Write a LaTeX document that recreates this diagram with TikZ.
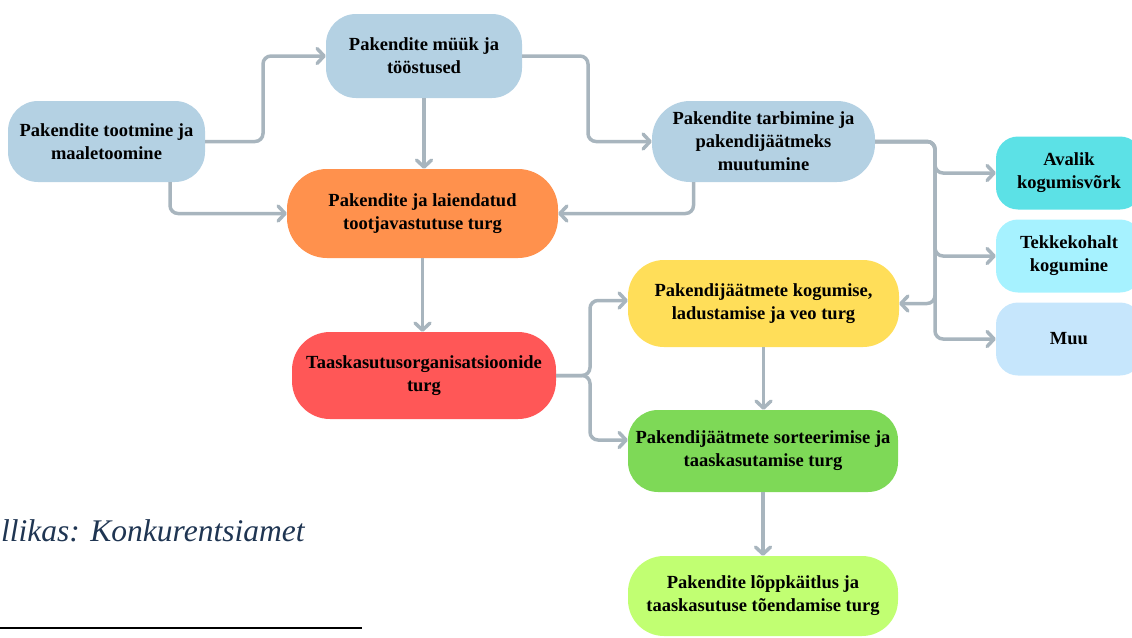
\documentclass[tikz,border=0pt]{standalone}
\usepackage{fontspec}
\setmainfont{Liberation Serif}
\usetikzlibrary{arrows.meta}
\definecolor{pakblue}{HTML}{B4D1E3}
\definecolor{pakorange}{HTML}{FF914D}
\definecolor{pakred}{HTML}{FF5757}
\definecolor{pakyellow}{HTML}{FFDE59}
\definecolor{pakgreen}{HTML}{7ED957}
\definecolor{paklime}{HTML}{C1FF72}
\definecolor{pakteal}{HTML}{5CE1E6}
\definecolor{pakcyan}{HTML}{A6F2FF}
\definecolor{paksky}{HTML}{C6E6FC}
\definecolor{conngray}{HTML}{A8B5BE}
\definecolor{captionnavy}{HTML}{1F3552}

\begin{document}
\begin{tikzpicture}[x=1pt,y=-1pt,
	box/.style={rounded corners=30pt,align=center,inner sep=0pt,
		font=\fontsize{18.5}{23}\selectfont\bfseries},
	sidebox/.style={box,rounded corners=22pt,minimum width=146pt,minimum height=73pt},
	conn/.style={draw=conngray,line width=3.5pt,rounded corners=8pt,
		-{Straight Barb[length=7pt,width=15pt,line cap=round,line join=round]}}
	]
	\useasboundingbox (0,0) rectangle (1132,637);
	\clip (0,0) rectangle (1132,637);
	%%%%%%%%%%%%%%%
	\node[box,fill=pakblue,minimum width=197pt,minimum height=81pt] (toot) at (106.5,141.5) {Pakendite tootmine ja\\maaletoomine};
	\node[box,fill=pakblue,minimum width=196pt,minimum height=84pt] (myyk) at (424,56) {Pakendite müük ja\\tööstused};
	\node[box,fill=pakblue,rounded corners=38pt,minimum width=223pt,minimum height=81pt] (tarb) at (763.5,141.5) {Pakendite tarbimine ja\\pakendijäätmeks\\muutumine};
	%%%%%%%%%%%%%%%
	\node[box,fill=pakorange,rounded corners=40pt,minimum width=271pt,minimum height=89pt] (tlv) at (422.5,213.5) {Pakendite ja laiendatud\\tootjavastutuse turg};
	\node[box,fill=pakred,rounded corners=38pt,minimum width=264pt,minimum height=87pt] (to) at (424,375.5) {Taaskasutusorganisatsioonide\\turg};
	%%%%%%%%%%%%%%%
	\node[box,fill=pakyellow,rounded corners=36pt,minimum width=271pt,minimum height=87pt] (kog) at (763.5,303.5) {Pakendijäätmete kogumise,\\ladustamise ja veo turg};
	\node[box,fill=pakgreen,minimum width=270pt,minimum height=82pt] (sort) at (763,451) {Pakendijäätmete sorteerimise ja\\taaskasutamise turg};
	\node[box,fill=paklime,rounded corners=36pt,minimum width=270pt,minimum height=80pt] (lopp) at (763,596) {Pakendite lõppkäitlus ja\\taaskasutuse tõendamise turg};
	%%%%%%%%%%%%%%%
	\node[sidebox,fill=pakteal] (aval) at (1069,173) {Avalik\\kogumisvõrk};
	\node[sidebox,fill=pakcyan] (tekk) at (1069,256) {Tekkekohalt\\kogumine};
	\node[sidebox,fill=paksky] (muu) at (1069,339) {Muu};
	%%%%%%%%%%%%%%%
	\node[anchor=west,inner sep=0pt,text=captionnavy,font=\fontsize{31.5}{36}\selectfont\itshape] (allikas) at (1,531) {llikas: Konkurentsiamet};
	\draw[line width=2pt] (0,628) -- (362,628);
	%%%%%%%%%%%%%%%
	\draw[conn] (toot.east) -- (263,141.5) |- (myyk.west);
	\draw[conn] ([xshift=63.5pt]toot.south) |- (tlv.west);
	\draw[conn] (myyk.south) -- (myyk.south |- tlv.north);
	\draw[conn] (myyk.east) -- (588,56) |- (tarb.west);
	\draw[conn] ([xshift=-70pt]tarb.south) |- (tlv.east);
	\draw[conn] (tarb.east) -- (935,141.5) |- (aval.west);
	\draw[conn] (tarb.east) -- (935,141.5) |- (tekk.west);
	\draw[conn] (tarb.east) -- (935,141.5) |- (muu.west);
	\draw[conn] (tarb.east) -- (935,141.5) |- (kog.east);
	\draw[conn] (tlv.south) -- (tlv.south |- to.north);
	\draw[conn] (to.east) -- (590,375.5) |- ([yshift=3pt]kog.west);
	\draw[conn] (to.east) -- (590,375.5) |- ([yshift=11pt]sort.west);
	\draw[conn] (kog.south) -- (kog.south |- sort.north);
	\draw[conn] (sort.south) -- (lopp.north);
\end{tikzpicture}
\end{document}
